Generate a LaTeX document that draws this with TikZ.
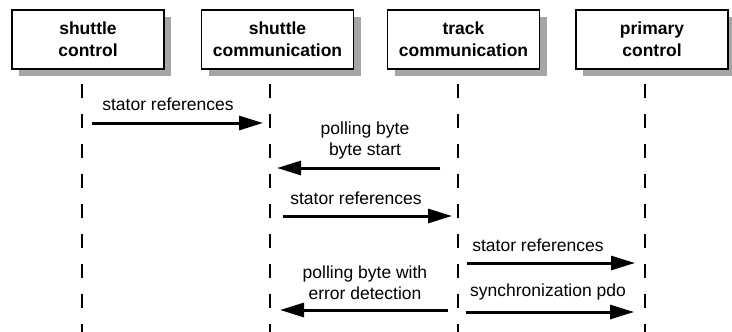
\documentclass[tikz,border=0pt]{standalone}
\usepackage{fontspec}
\setmainfont{Liberation Sans}
\usetikzlibrary{arrows.meta,shadows}
\begin{document}
\begin{tikzpicture}[x=1pt,y=-1pt,
  actor/.style={draw, line width=1.5pt, fill=white, minimum width=152pt, minimum height=59pt,
    inner sep=0pt, align=center, font=\fontsize{17.5}{22}\selectfont\bfseries,
    drop shadow={shadow xshift=7pt, shadow yshift=-7pt, fill=black!35, opacity=1}},
  life/.style={line width=2.8pt, dash pattern=on 14pt off 16pt},
  msg/.style={line width=3pt, -{Triangle[length=24pt,width=14pt]}},
  lbl/.style={align=center, inner sep=0pt, font=\fontsize{17.5}{21}\selectfont}]
\useasboundingbox (0,0) rectangle (732,332);
% actors
\node[actor] (b1) at (88,39.5) {shuttle\\control};
\node[actor] (b2) at (277.5,39.5) {shuttle\\communication};
\node[actor] (b3) at (463.5,39.5) {track\\communication};
\node[actor] (b4) at (652,39.5) {primary\\control};
% lifelines
\coordinate (l1t) at (82,84);  \coordinate (l1b) at (82,332);
\coordinate (l2t) at (270,84); \coordinate (l2b) at (270,332);
\coordinate (l3t) at (458,84); \coordinate (l3b) at (458,332);
\coordinate (l4t) at (645,84); \coordinate (l4b) at (645,332);
\draw[life] (l1t) -- (l1b);
\draw[life] (l2t) -- (l2b);
\draw[life] (l3t) -- (l3b);
\draw[life] (l4t) -- (l4b);
% message end points
\coordinate (m1s) at (92,123);  \coordinate (m1e) at (263,123);
\coordinate (m2s) at (440,168); \coordinate (m2e) at (277,168);
\coordinate (m3s) at (283,216); \coordinate (m3e) at (452,216);
\coordinate (m4s) at (467,263); \coordinate (m4e) at (635,263);
\coordinate (m5s) at (448,310); \coordinate (m5e) at (280,310);
\coordinate (m6s) at (466,312); \coordinate (m6e) at (634,312);
\draw[msg] (m1s) -- (m1e);
\draw[msg] (m2s) -- (m2e);
\draw[msg] (m3s) -- (m3e);
\draw[msg] (m4s) -- (m4e);
\draw[msg] (m5s) -- (m5e);
\draw[msg] (m6s) -- (m6e);
% labels
\node[lbl] (t1) at (168,104) {stator references};
\node[lbl] (t2) at (365,140) {polling byte\\byte start};
\node[lbl] (t3) at (356,198) {stator references};
\node[lbl] (t4) at (538,245) {stator references};
\node[lbl] (t5) at (365,283) {polling byte with\\error detection};
\node[lbl] (t6) at (548,292) {synchronization pdo};
\end{tikzpicture}
\end{document}
